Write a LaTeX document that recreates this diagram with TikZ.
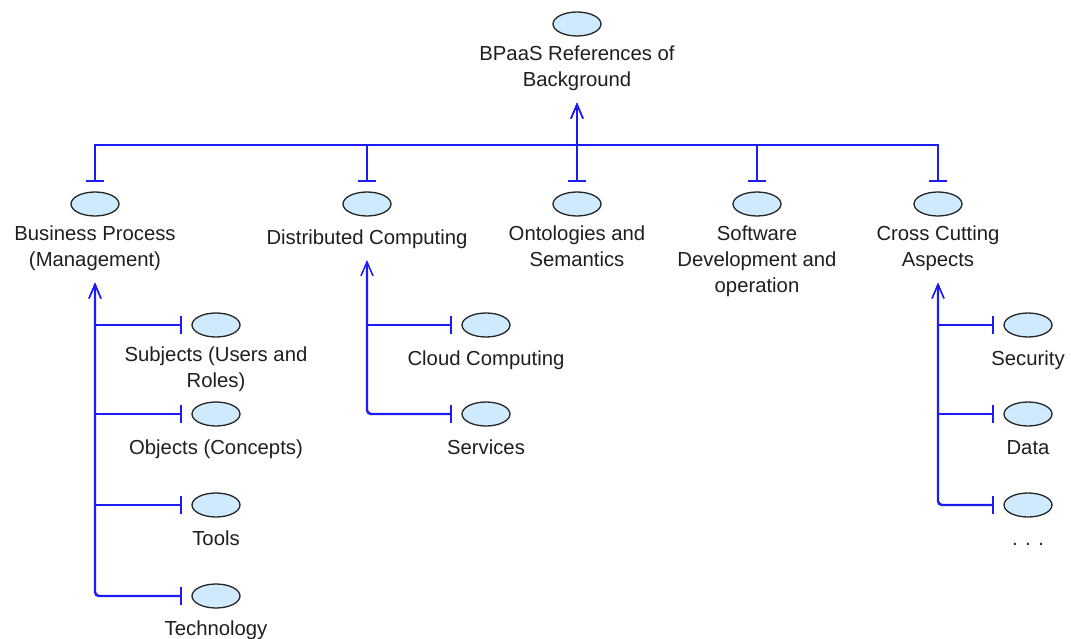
\documentclass[tikz,border=0pt]{standalone}
\usepackage{fontspec}
\setmainfont{Liberation Sans}
\usetikzlibrary{shapes.geometric,arrows.meta}
\definecolor{ellfill}{RGB}{206,234,252}
\definecolor{linkc}{RGB}{28,28,245}
\definecolor{textc}{RGB}{30,30,30}
\tikzset{
  concept/.style={ellipse, draw=black!85, fill=ellfill, line width=1.3pt,
    minimum width=48pt, minimum height=24pt, inner sep=0pt},
  lab/.style={anchor=north, inner sep=0pt, align=center,
    font=\fontsize{20.3}{26}\selectfont, text=textc,
    execute at begin node=\strut, execute at end node=\strut},
  link/.style={draw=linkc, line width=2.4pt,
    {Bar[width=18pt]}-{Straight Barb[length=14pt,width=12pt,line width=1.2pt]},
    shorten <=9pt, shorten >=8pt},
  lastlink/.style={link, rounded corners=4pt},
}
\begin{document}
\begin{tikzpicture}[x=1pt,y=-1pt]
\useasboundingbox (0,0) rectangle (1071,639);
% root
\node[concept] (e0) at (577,24) {};
\node[lab] (t0) at (577,46) {BPaaS References of\\Background};
% first level
\node[concept] (e1) at (95,204) {};
\node[lab] (t1) at (95,226) {Business Process\\(Management)};
\node[concept] (e2) at (367,204) {};
\node[lab] (t2) at (367,226) {Distributed Computing};
\node[concept] (e3) at (577,204) {};
\node[lab] (t3) at (577,226) {Ontologies and\\Semantics};
\node[concept] (e4) at (757,204) {};
\node[lab] (t4) at (757,226) {Software\\Development and\\operation};
\node[concept] (e5) at (938,204) {};
\node[lab] (t5) at (938,226) {Cross Cutting\\Aspects};
% second level: business process
\node[concept] (e11) at (216,325) {};
\node[lab] (t11) at (216,347) {Subjects (Users and\\Roles)};
\node[concept] (e12) at (216,414) {};
\node[lab] (t12) at (216,436) {Objects (Concepts)};
\node[concept] (e13) at (216,505) {};
\node[lab] (t13) at (216,527) {Tools};
\node[concept] (e14) at (216,596) {};
\node[lab] (t14) at (216,617) {Technology};
% distributed computing
\node[concept] (e21) at (486,325) {};
\node[lab] (t21) at (486,347) {Cloud Computing};
\node[concept] (e22) at (486,414) {};
\node[lab] (t22) at (486,436) {Services};
% cross cutting
\node[concept] (e51) at (1028,325) {};
\node[lab] (t51) at (1028,347) {Security};
\node[concept] (e52) at (1028,414) {};
\node[lab] (t52) at (1028,436) {Data};
\node[concept] (e53) at (1028,505) {};
\node[lab] (t53) at (1028,527) {. . .};
% bus
\coordinate (bus) at (577,145);
\foreach \c in {e1,e2,e3,e4,e5}
  \draw[link] (\c.north) |- (bus) -- (t0.south);
% sub-branches
\foreach \c in {e11,e12,e13}
  \draw[link] (\c.west) -| (t1.south);
\draw[lastlink] (e14.west) -| (t1.south);
\draw[link] (e21.west) -| (t2.south);
\draw[lastlink] (e22.west) -| (t2.south);
\foreach \c in {e51,e52}
  \draw[link] (\c.west) -| (t5.south);
\draw[lastlink] (e53.west) -| (t5.south);
\end{tikzpicture}
\end{document}
